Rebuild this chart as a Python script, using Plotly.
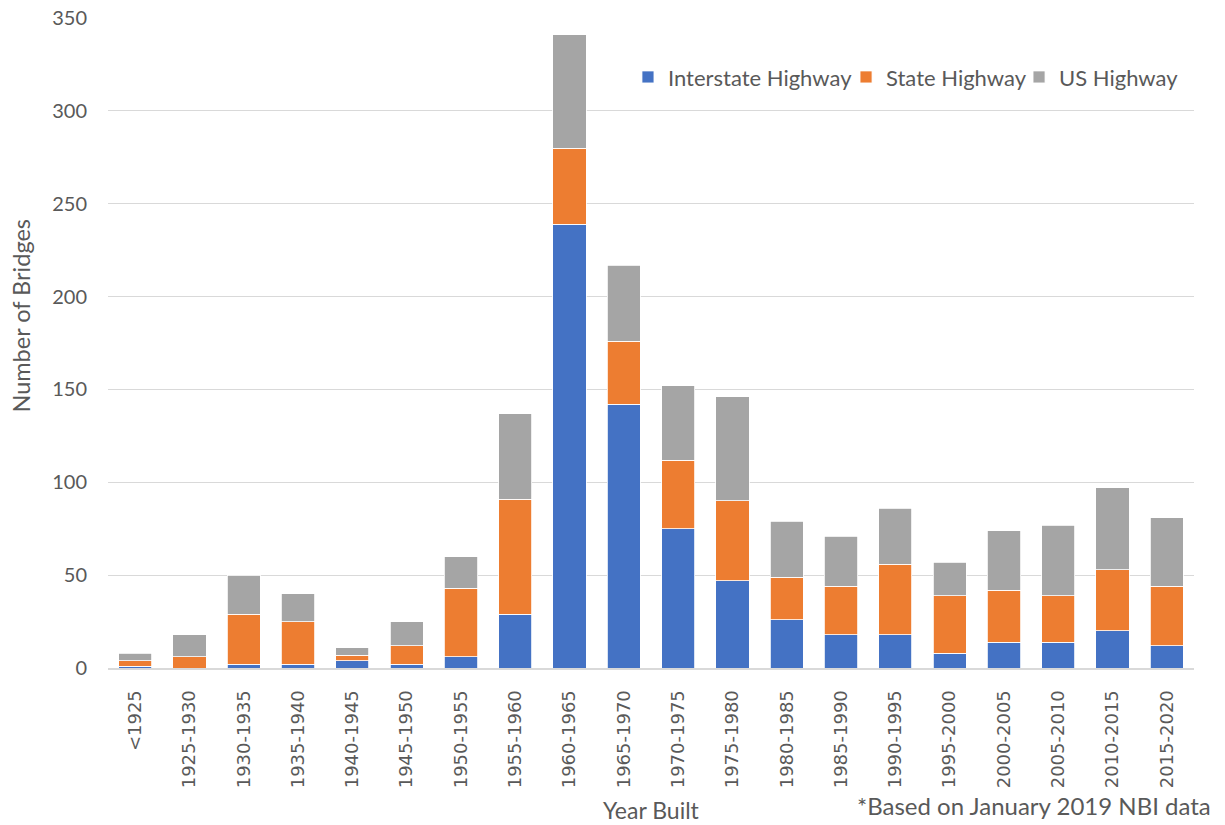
import plotly.graph_objects as go

# Bridge counts by construction period and highway system
periods = ["<1925", "1925-1930", "1930-1935", "1935-1940", "1940-1945", "1945-1950",
           "1950-1955", "1955-1960", "1960-1965", "1965-1970", "1970-1975", "1975-1980",
           "1980-1985", "1985-1990", "1990-1995", "1995-2000", "2000-2005", "2005-2010",
           "2010-2015", "2015-2020"]
interstate = [1, 0, 2, 2, 4, 2, 6, 29, 239, 142, 75, 47, 26, 18, 18, 8, 14, 14, 20, 12]
state = [3, 6, 27, 23, 3, 10, 37, 62, 41, 34, 37, 43, 23, 26, 38, 31, 28, 25, 33, 32]
us = [4, 12, 21, 15, 4, 13, 17, 46, 61, 41, 40, 56, 30, 27, 30, 18, 32, 38, 44, 37]

y_ticks = [0, 50, 100, 150, 200, 250, 300, 350]

FONT = "Lato"
TEXT = "#595959"

# name, values, colour, legend id, legend x position (paper)
series = [
    ("Interstate Highway", interstate, "#4472C4", "legend", 0.4788),
    ("State Highway", state, "#ED7D31", "legend2", 0.6796),
    ("US Highway", us, "#A5A5A5", "legend3", 0.8389),
]

fig = go.Figure()
legend_layout = {}
for name, vals, color, leg, lx in series:
    fig.add_trace(go.Bar(
        x=periods, y=vals, name=name, legend=leg, showlegend=True,
        marker=dict(color=color, line=dict(color="#FFFFFF", width=0.8)),
    ))
    legend_layout[leg] = dict(
        orientation="h", x=lx, xanchor="left", y=0.909, yanchor="middle",
        font=dict(family=FONT, size=22, color=TEXT),
        itemwidth=30, bgcolor="rgba(0,0,0,0)",
    )

fig.update_layout(
    showlegend=True,
    barmode="stack",
    bargap=0.39,
    width=1225, height=825,
    margin=dict(l=108, r=31, t=18, b=157, autoexpand=False),
    paper_bgcolor="white", plot_bgcolor="white",
    font=dict(family=FONT, color=TEXT, size=20),
    **legend_layout,
    xaxis=dict(
        automargin=False,
        tickangle=-90,
        tickfont=dict(family="DejaVu Sans", size=18, color=TEXT),
        showgrid=False, showline=True, linecolor="#D9D9D9", linewidth=2,
        ticks="", ticklabelstandoff=13,
    ),
    yaxis=dict(
        automargin=False,
        range=[0, 350], tickvals=y_ticks,
        tickfont=dict(family=FONT, size=20, color=TEXT),
        showgrid=True, gridcolor="#D9D9D9", gridwidth=1.3,
        zeroline=False, showline=False, ticks="", ticklabelstandoff=20,
    ),
    annotations=[
        dict(text="Number of Bridges", xref="paper", yref="paper",
             x=-0.0805, y=0.5415, xanchor="center", yanchor="middle", textangle=-90,
             showarrow=False, font=dict(family=FONT, size=23.5, color=TEXT)),
        dict(text="Year Built", xref="paper", yref="paper",
             x=0.5, y=-0.2185, xanchor="center", yanchor="middle",
             showarrow=False, font=dict(family=FONT, size=23, color=TEXT)),
        dict(text="*Based on January 2019 NBI data", xref="paper", yref="paper",
             x=1.0175, y=-0.212, xanchor="right", yanchor="middle", showarrow=False,
             font=dict(family=FONT, size=24, color=TEXT)),
    ],
)

fig.write_html("out.html")
